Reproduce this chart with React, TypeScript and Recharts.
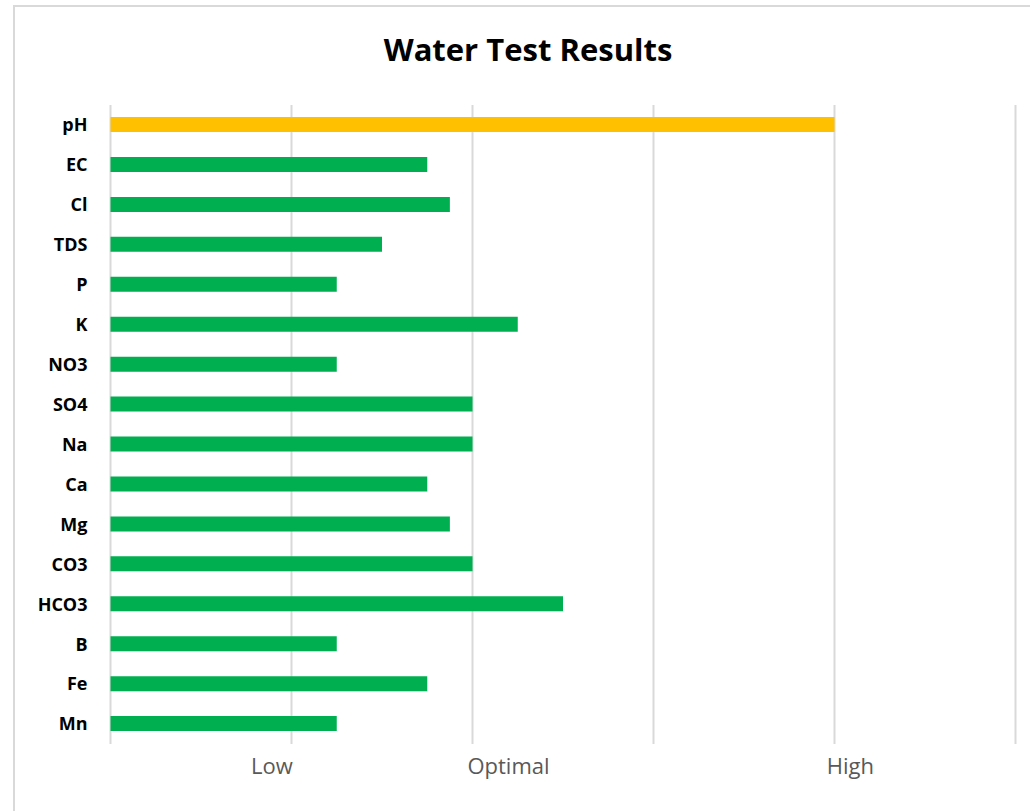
import React from "react";
import { ComposedChart, Bar, Line, XAxis, YAxis, CartesianGrid, Cell } from "recharts";

const categories = ["pH", "EC", "Cl", "TDS", "P", "K", "NO3", "SO4", "Na", "Ca", "Mg", "CO3", "HCO3", "B", "Fe", "Mn"];
const values = [4, 1.75, 1.875, 1.5, 1.25, 2.25, 1.25, 2, 2, 1.75, 1.875, 2, 2.5, 1.25, 1.75, 1.25];
const gridTicks = [0, 1, 2, 3, 4, 5];
const tickLabels = ["Low", "Optimal", "High"];
const tickLabelPositions = [0.892, 2.199, 4.088];

const data = categories.map((c, i) => ({ name: c, value: values[i] }));

const FONT = "'Open Sans', 'Liberation Sans', sans-serif";

export default function App() {
  return (
    <div style={{ position: "fixed", left: 0, top: 0, width: 1030, height: 811, overflow: "hidden", background: "#fff", fontFamily: FONT }}>
      <div style={{ position: "absolute", left: 13, top: 5, width: 1100, height: 900, border: "2px solid #D9D9D9", boxSizing: "border-box" }} />
      <div style={{ position: "absolute", left: 0, width: 1056, top: 29, textAlign: "center", fontWeight: 700, fontSize: 31, color: "#000", lineHeight: "40px", whiteSpace: "nowrap" }}>
        Water Test Results
      </div>
      <div style={{ position: "absolute", left: 0, top: 0 }}>
        <ComposedChart
          width={1030}
          height={811}
          data={data}
          layout="vertical"
          margin={{ top: 105, right: 14.5, bottom: 0, left: 0 }}
          barCategoryGap={0}
        >
          <CartesianGrid horizontal={false} vertical stroke="#D9D9D9" strokeWidth={2} />
          <XAxis type="number" domain={[0, 5]} ticks={gridTicks} interval={0} hide height={0} />
          <XAxis
            xAxisId="labels"
            type="number"
            domain={[0, 5]}
            allowDataOverflow
            ticks={tickLabelPositions}
            interval={0}
            axisLine={false}
            tickLine={false}
            tickSize={0}
            tickMargin={14}
            height={67}
            tickFormatter={(v: number) => tickLabels[tickLabelPositions.indexOf(v)] ?? ""}
            tick={{ fill: "#595959", fontSize: 22, fontFamily: FONT }}
          />
          <YAxis
            type="category"
            dataKey="name"
            width={110.5}
            axisLine={false}
            tickLine={false}
            tickSize={0}
            tickMargin={23}
            interval={0}
            tick={{ fill: "#000", fontSize: 18, fontWeight: 700, fontFamily: FONT }}
          />
          <Bar dataKey="value" barSize={15} isAnimationActive={false}>
            {data.map((d) => (
              <Cell key={d.name} fill={d.name === "pH" ? "#FFC000" : "#00B050"} />
            ))}
          </Bar>
          <Line xAxisId="labels" dataKey="value" stroke="none" dot={false} activeDot={false} isAnimationActive={false} legendType="none" />
        </ComposedChart>
      </div>
    </div>
  );
}
